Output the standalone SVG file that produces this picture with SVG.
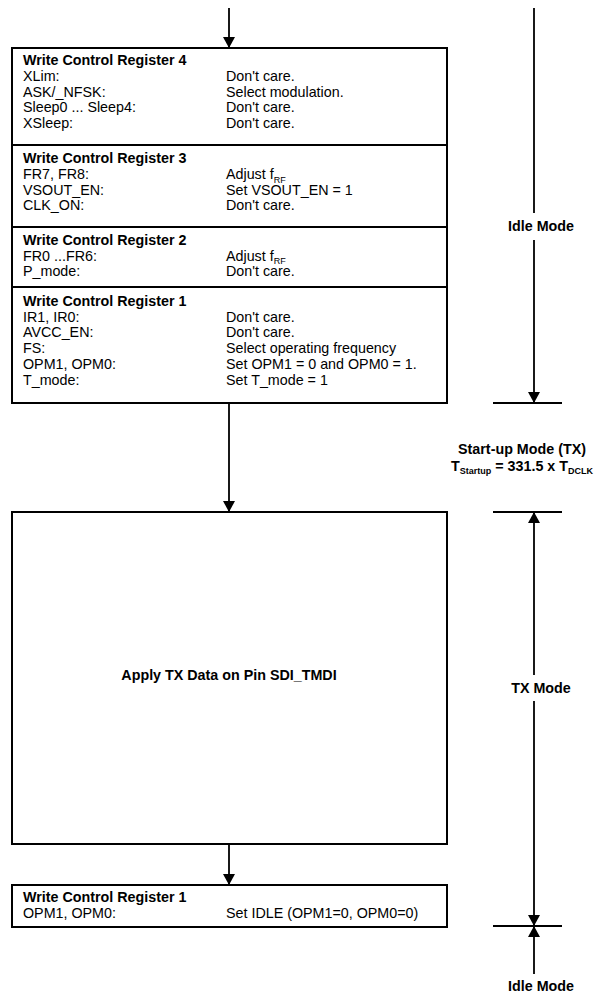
<svg xmlns="http://www.w3.org/2000/svg" width="597" height="996" viewBox="0 0 597 996">
<style>
text{font-family:"Liberation Sans",Arial,Helvetica,sans-serif;font-size:14.3px;fill:#000}
.b{font-weight:bold}
.c{text-anchor:middle}
.box{fill:#fff;stroke:#000;stroke-width:2}
.sep{stroke:#000;stroke-width:2}
.ln{stroke:#000;stroke-width:1.8;fill:none}
.tick{stroke:#000;stroke-width:1.8}
.sub{font-size:9px}
</style>
<defs>
<marker id="ah" viewBox="0 0 11 12" refX="11" refY="6" markerWidth="11" markerHeight="12" orient="auto" markerUnits="userSpaceOnUse">
<path d="M0,0 L11,6 L0,12 z" fill="#000"/>
</marker>
</defs>

<g id="regs-box">
<rect class="box" x="12" y="48" width="435" height="355"/>
<line class="sep" x1="12" y1="145" x2="447" y2="145"/>
<line class="sep" x1="12" y1="227" x2="447" y2="227"/>
<line class="sep" x1="12" y1="287" x2="447" y2="287"/>
</g>

<g id="reg4">
<text class="b" x="23" y="65">Write Control Register 4</text>
<text x="23" y="81">XLim:</text><text x="226" y="81">Don't care.</text>
<text x="23" y="96.7">ASK/_NFSK:</text><text x="226" y="96.7">Select modulation.</text>
<text x="23" y="112.4">Sleep0 ... Sleep4:</text><text x="226" y="112.4">Don't care.</text>
<text x="23" y="128.1">XSleep:</text><text x="226" y="128.1">Don't care.</text>
</g>

<g id="reg3">
<text class="b" x="23" y="163">Write Control Register 3</text>
<text x="23" y="179">FR7, FR8:</text><text x="226" y="179">Adjust f<tspan class="sub" dy="3.5">RF</tspan></text>
<text x="23" y="194.7">VSOUT_EN:</text><text x="226" y="194.7">Set VSOUT_EN = 1</text>
<text x="23" y="210.4">CLK_ON:</text><text x="226" y="210.4">Don't care.</text>
</g>

<g id="reg2">
<text class="b" x="23" y="245">Write Control Register 2</text>
<text x="23" y="260.7">FR0 ...FR6:</text><text x="226" y="260.7">Adjust f<tspan class="sub" dy="3.5">RF</tspan></text>
<text x="23" y="276.4">P_mode:</text><text x="226" y="276.4">Don't care.</text>
</g>

<g id="reg1">
<text class="b" x="23" y="306">Write Control Register 1</text>
<text x="23" y="321.7">IR1, IR0:</text><text x="226" y="321.7">Don't care.</text>
<text x="23" y="337.4">AVCC_EN:</text><text x="226" y="337.4">Don't care.</text>
<text x="23" y="353.1">FS:</text><text x="226" y="353.1">Select operating frequency</text>
<text x="23" y="368.8">OPM1, OPM0:</text><text x="226" y="368.8">Set OPM1 = 0 and OPM0 = 1.</text>
<text x="23" y="384.5">T_mode:</text><text x="226" y="384.5">Set T_mode = 1</text>
</g>

<g id="tx-data">
<rect class="box" x="12" y="512" width="435" height="332"/>
<text class="b c" x="229" y="680">Apply TX Data on Pin SDI_TMDI</text>
</g>

<g id="reg1-idle">
<rect class="box" x="12" y="885" width="435" height="42"/>
<text class="b" x="23" y="902">Write Control Register 1</text>
<text x="23" y="917.5">OPM1, OPM0:</text><text x="226" y="917.5">Set IDLE (OPM1=0, OPM0=0)</text>
</g>

<g id="connectors">
<line class="ln" x1="229" y1="8" x2="229" y2="48" marker-end="url(#ah)"/>
<line class="ln" x1="229" y1="403" x2="229" y2="512" marker-end="url(#ah)"/>
<line class="ln" x1="229" y1="844" x2="229" y2="885" marker-end="url(#ah)"/>
</g>

<g id="timing">
<line class="ln" x1="534" y1="8" x2="534" y2="213"/>
<line class="ln" x1="534" y1="240" x2="534" y2="403" marker-end="url(#ah)"/>
<line class="tick" x1="493" y1="403" x2="562" y2="403"/>
<line class="tick" x1="493" y1="512" x2="562" y2="512"/>
<line class="ln" x1="534" y1="675" x2="534" y2="512" marker-end="url(#ah)"/>
<line class="ln" x1="534" y1="701" x2="534" y2="926" marker-end="url(#ah)"/>
<line class="tick" x1="493" y1="926" x2="562" y2="926"/>
<line class="ln" x1="534" y1="974" x2="534" y2="926" marker-end="url(#ah)"/>
</g>

<g id="labels">
<text class="b c" x="541" y="231">Idle Mode</text>
<text class="b c" x="522" y="454">Start-up Mode (TX)</text>
<text class="b c" x="522" y="471">T<tspan class="sub" dy="3">Startup</tspan><tspan dy="-3"> = 331.5 x T</tspan><tspan class="sub" dy="3">DCLK</tspan></text>
<text class="b c" x="541" y="693">TX Mode</text>
<text class="b c" x="541" y="991">Idle Mode</text>
</g>
</svg>
